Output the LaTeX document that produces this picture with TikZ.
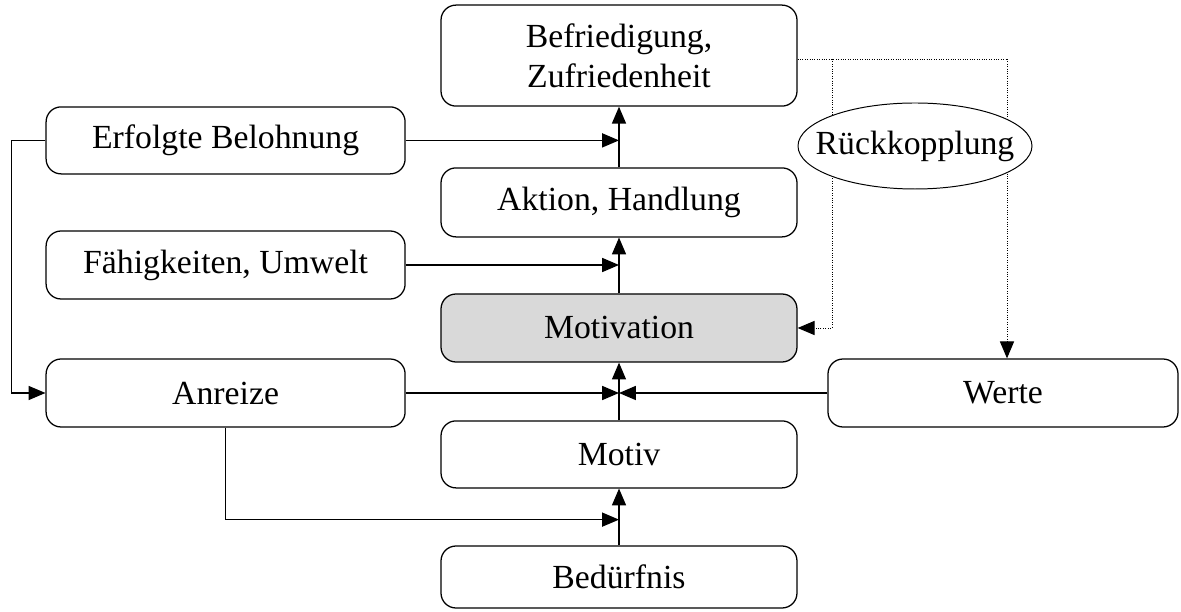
\documentclass[tikz,border=0pt]{standalone}
\usepackage{fontspec}
\setmainfont{Liberation Serif}
\usetikzlibrary{arrows.meta,shapes.geometric}

\begin{document}
\begin{tikzpicture}[box/.style={draw,rounded corners=0.375cm,line width=0.9pt,minimum width=8.9cm,minimum height=1.7cm,align=center},
                    pfeil/.style={-{Triangle[length=12pt,width=10pt]},line width=0.9pt},
                    rueck/.style={densely dotted,line width=0.7pt}]
\tikzset{every node/.style={font=\fontsize{24}{28.5}\selectfont}}
%\tikzset{every node/.style={font=\Large}}
\useasboundingbox (0,0) rectangle (29.525,15.3);

% mittlere Saeule
\node[box,minimum height=2.525cm] (bef) at (15.475,13.91) {Befriedigung,\\Zufriedenheit};
\node[box,minimum height=1.725cm] (akt) at (15.475,10.24) {Aktion, Handlung};
\node[box,fill=black!15] (mot) at (15.475,7.1) {Motivation};
\node[box,minimum height=1.675cm] (motiv) at (15.475,3.94) {Motiv};
\node[box,minimum height=1.55cm] (bed) at (15.475,0.875) {Bed\"urfnis};

% links
\node[box,minimum width=8.975cm,minimum height=1.675cm] (bel) at (5.64,11.79) {Erfolgte Belohnung};
\node[box,minimum width=8.975cm] (faeh) at (5.64,8.675) {F\"ahigkeiten, Umwelt};
\node[box,minimum width=8.975cm] (anr) at (5.64,5.475) {Anreize};

% rechts
\node[box,minimum width=8.75cm] (wer) at (25.075,5.475) {Werte};

% Pfeile in der Mitte
\draw[pfeil] (bed.north) -- (motiv.south);
\draw[pfeil] (motiv.north) -- (mot.south);
\draw[pfeil] (mot.north) -- (akt.south);
\draw[pfeil] (akt.north) -- (bef.south);

\draw[pfeil] (bel.east) -- (bel.east -| akt.north);
\draw[pfeil] (faeh.east) -- (faeh.east -| mot.north);
\draw[pfeil] (anr.east) -- (anr.east -| motiv.north);
\draw[pfeil] (wer.west) -- (wer.west -| motiv.north);
\coordinate (knick) at ([yshift=-2.3cm]anr.south);
\draw[pfeil] (anr.south) -- (knick) -- (knick -| motiv.south);
\draw[pfeil] (bel.west) -- ++(-0.85,0) |- (anr.west);

% Rueckkopplung
\coordinate (r1) at (20.8,13.825);
\coordinate (r2) at (25.175,13.825);
\draw[rueck] (bef.east |- r1) -- (r2);
\draw[rueck,-{Triangle[length=12pt,width=10pt]}] (r1) |- (mot.east);
\draw[rueck,-{Triangle[length=12pt,width=10pt]}] (r2) -- (r2 |- wer.north);
\node[draw,ellipse,fill=white,line width=0.7pt,minimum width=5.85cm,minimum height=2.15cm,inner xsep=-0.45cm,inner ysep=0pt] (rk) at (22.875,11.65) {R\"uckkopplung};
\end{tikzpicture}
\end{document}
